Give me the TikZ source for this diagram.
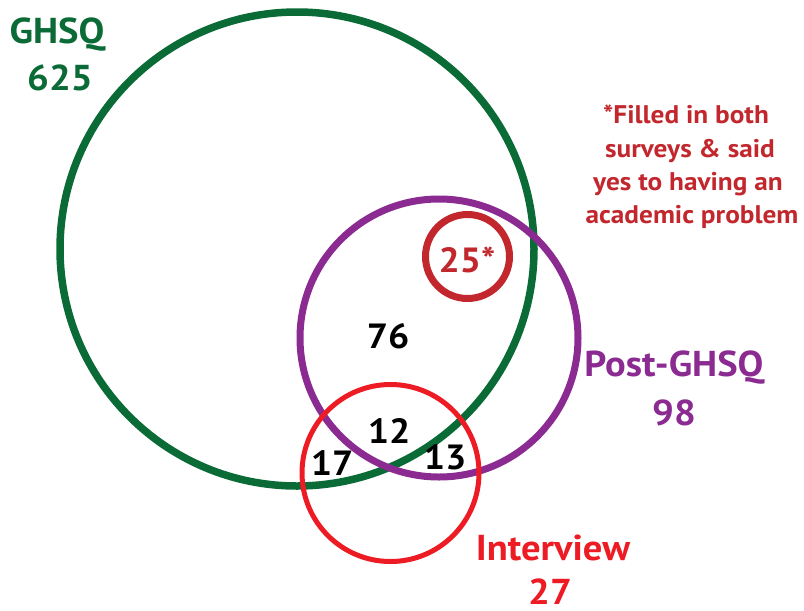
\documentclass[tikz,border=0pt]{standalone}
\usepackage{fontspec}
\setmainfont{PT Sans}[FakeStretch=1.07]
\definecolor{cgreen}{HTML}{0B6B36}
\definecolor{cpurple}{HTML}{8B2B92}
\definecolor{cdred}{HTML}{C1272D}
\definecolor{cred}{HTML}{ED1C24}
\tikzset{
  ring/.style={draw, circle, inner sep=0pt, outer sep=0pt},
  lbl/.style={font=\bfseries\fontsize{36}{38}\selectfont, anchor=base, inner sep=0pt},
  num/.style={font=\bfseries\fontsize{35}{38}\selectfont, anchor=base, inner sep=0pt, text=black},
  note/.style={font=\bfseries\fontsize{25.5}{33}\selectfont, text=cdred, align=center, inner sep=0pt, anchor=base}
}
\begin{document}
\begin{tikzpicture}[x=1pt,y=-1pt]
\useasboundingbox (0,0) rectangle (804,611);
\node[ring, cgreen, line width=7.5pt, minimum size=474pt] (ghsq) at (297,249) {};
\node[ring, cpurple, line width=7pt, minimum size=278pt] (post) at (439,338) {};
\node[ring, cdred, line width=7pt, minimum size=84pt] (acad) at (467.5,256.5) {};
\node[ring, cred, line width=5pt, minimum size=177pt] (intv) at (390.5,473) {};

\node[lbl, text=cgreen] (tghsq) at (57,43) {GHSQ};
\node[lbl, text=cgreen] (nghsq) at (60,90) {625};
\node[lbl, text=cpurple] (tpost) at (674,376) {Post-GHSQ};
\node[lbl, text=cpurple] (npost) at (674,425) {98};
\node[lbl, text=cred] (tintv) at (553,560) {Interview};
\node[lbl, text=cred] (nintv) at (550,604) {27};

\node[num] (n76) at (388,348) {76};
\node[num] (n12) at (389,443) {12};
\node[num] (n17) at (332,475) {17};
\node[num] (n13) at (445,469) {13};
\node[num, text=cdred] (n25) at (467,272) {25*};

\node[note] (nt1) at (686,123) {*Filled in both};
\node[note] (nt2) at (690,157) {surveys \& said};
\node[note] (nt3) at (688,190) {yes to having an};
\node[note] (nt4) at (692,223) {academic problem};
\end{tikzpicture}
\end{document}
